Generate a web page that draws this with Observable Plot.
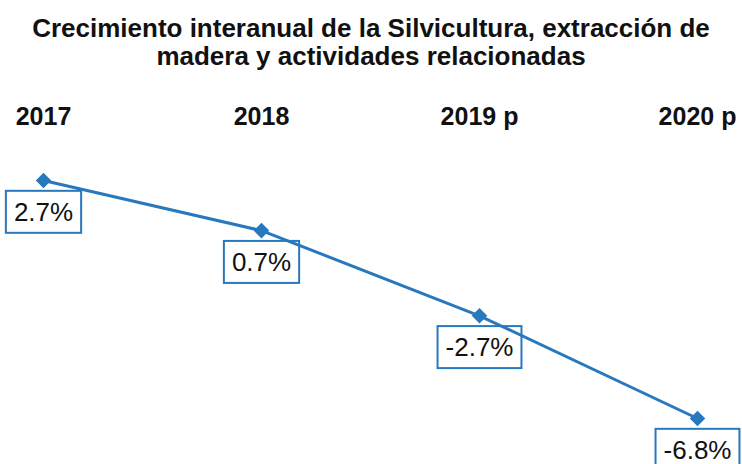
<!DOCTYPE html>
<html>
<head>
<meta charset="utf-8">
<script src="https://cdn.jsdelivr.net/npm/d3@7"></script>
<script src="https://cdn.jsdelivr.net/npm/@observablehq/plot@0.6"></script>
<style>
  html, body { margin: 0; padding: 0; background: #fff; }
  body { width: 742px; height: 464px; overflow: hidden; font-family: "Liberation Sans", Arial, sans-serif; }
  #title { padding-top: 14px; height: 56px; font-size: 26px; font-weight: bold; line-height: 28px; text-align: center; color: #111; white-space: nowrap; }
</style>
</head>
<body>
<div id="title">Crecimiento interanual de la Silvicultura, extracción de<br>madera y actividades relacionadas</div>
<div id="chart"></div>
<script>
const years = ["2017", "2018", "2019 p", "2020 p"];
const growth = [2.7, 0.7, -2.7, -6.8];

const data = years.map((year, i) => ({year, value: growth[i]}));
const blue = "#2878BE";

const plot = Plot.plot({
  width: 742,
  height: 394,
  marginTop: 54,
  marginLeft: 0,
  marginRight: 0,
  marginBottom: 0,
  style: {fontFamily: "'Liberation Sans', Arial, sans-serif", background: "#fff", color: "#111", overflow: "visible"},
  x: {type: "point", domain: years, range: [42.5, 698], padding: 0},
  y: {domain: [-6.8, 2.7], range: [348, 110], axis: null},
  marks: [
    Plot.axisX({anchor: "top", tickSize: 0, tickPadding: 0, fontSize: 25, fontWeight: "bold", label: null}),
    Plot.line(data, {x: "year", y: "value", stroke: blue, strokeWidth: 3}),
    Plot.dot(data, {x: "year", y: "value", symbol: "diamond2", r: 7, fill: blue, stroke: null}),
    Plot.text(data, {x: "year", y: "value", text: d => d.value.toFixed(1) + "%", dy: 32, fontSize: 26, fill: "#111", lineAnchor: "middle", ariaLabel: "valor"})
  ]
});
document.getElementById("chart").appendChild(plot);

// draw framed boxes around the value labels
const padX = 8, padY = 6;
Array.from(plot.querySelectorAll("text"))
  .filter(t => /%$/.test(t.textContent.trim()))
  .forEach(t => {
    const b = t.getBBox();
    const r = document.createElementNS("http://www.w3.org/2000/svg", "rect");
    r.setAttribute("x", b.x - padX);
    r.setAttribute("y", b.y - padY);
    r.setAttribute("width", b.width + 2 * padX);
    r.setAttribute("height", b.height + 2 * padY);
    r.setAttribute("fill", "none");
    r.setAttribute("stroke", blue);
    r.setAttribute("stroke-width", 2);
    if (t.getAttribute("transform")) r.setAttribute("transform", t.getAttribute("transform"));
    t.parentNode.insertBefore(r, t);
  });
</script>
</body>
</html>
